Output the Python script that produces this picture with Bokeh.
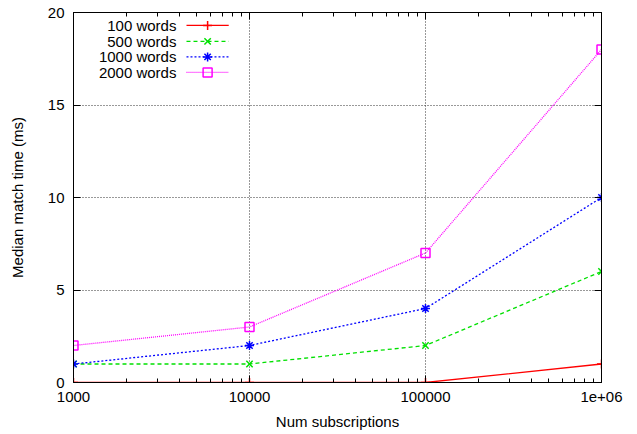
from bokeh.plotting import figure
from bokeh.models import FixedTicker, LogAxis, LinearAxis, Range1d, ColumnDataSource
from bokeh.core.properties import value
from bokeh.embed import file_html
from bokeh.resources import INLINE

subs = [1000, 10000, 100000, 1000000]
w100 = [0, 0, 0, 1]
w500 = [1, 1, 2, 6]
w1000 = [1, 2, 4, 10]
w2000 = [2, 3, 7, 18]
names = ["100 words", "500 words", "1000 words", "2000 words"]
x_tick_labels = ["1000", "10000", "100000", "1e+06"]
y_ticks = [0, 5, 10, 15, 20]

colors = ["#ff0000", "#00e000", "#0000ff", "#ff00ff"]
dashes = ["solid", "4 3", "2 2", "1 1"]
markers = ["cross", "x", "asterisk", "square"]
series = [w100, w500, w1000, w2000]

FONT = "Liberation Sans"
FS = "15px"

p = figure(width=637, height=434, x_axis_type="log",
           x_range=Range1d(1000, 1e6), y_range=Range1d(0, 20),
           output_backend="svg", toolbar_location=None,
           min_border_left=73, min_border_right=36,
           min_border_top=12, min_border_bottom=52)
p.background_fill_color = "white"
p.border_fill_color = "white"
p.outline_line_color = "black"
p.outline_line_width = 1

minor = [m * d for d in (1000, 10000, 100000) for m in range(2, 10)]
xt = FixedTicker(ticks=subs, minor_ticks=minor)
yt = FixedTicker(ticks=y_ticks, minor_ticks=[])

def style_axis(ax, labels=True):
    ax.axis_line_color = "black"
    ax.major_tick_in = 7
    ax.major_tick_out = 0
    ax.minor_tick_in = 4
    ax.minor_tick_out = 0
    ax.major_tick_line_color = "black"
    ax.minor_tick_line_color = "black"
    ax.major_label_text_font = FONT
    ax.major_label_text_font_size = FS
    ax.major_label_text_color = "black"
    ax.axis_label_text_font = FONT
    ax.axis_label_text_font_size = FS
    ax.axis_label_text_font_style = "normal"
    ax.axis_label_text_color = "black"
    if not labels:
        ax.major_label_text_font_size = "1px"
        ax.major_label_text_alpha = 0
        ax.major_label_standoff = 0

xa = p.xaxis[0]
xa.ticker = xt
xa.major_label_overrides = {t: l for t, l in zip(subs, x_tick_labels)}
xa.axis_label = "Num subscriptions"
xa.major_label_standoff = 9
xa.axis_label_standoff = 8
style_axis(xa)

ya = p.yaxis[0]
ya.ticker = yt
ya.axis_label = "Median match time (ms)"
ya.major_label_standoff = 9
ya.axis_label_standoff = 19
style_axis(ya)

top = LogAxis(ticker=xt)
style_axis(top, labels=False)
p.add_layout(top, "above")
right = LinearAxis(ticker=yt)
style_axis(right, labels=False)
p.add_layout(right, "right")

for g in (p.xgrid[0], p.ygrid[0]):
    g.grid_line_color = "#333333"
    g.grid_line_dash = "1 2"
    g.grid_line_width = 1
p.xgrid[0].ticker = xt
p.ygrid[0].ticker = yt

for name, ys, c, d, m in zip(names, series, colors, dashes, markers):
    src = ColumnDataSource(dict(x=subs, y=ys))
    p.line("x", "y", source=src, line_color=c, line_dash=d, line_width=1.3)
    if m == "square":
        p.scatter("x", "y", source=src, marker=m, size=9, line_color=c,
                  fill_color=None, line_width=1.5)
    else:
        p.scatter("x", "y", source=src, marker=m, size=9, line_color=c,
                  line_width=1.5)

# custom gnuplot-style legend (label then sample), placed by frame fractions
def fx(f):
    return 10 ** (3 + 3 * f)

def fy(f):
    return 20 * f

row_fracs = [0.965, 0.922, 0.880, 0.838]
for i, (name, c, d, m) in enumerate(zip(names, colors, dashes, markers)):
    yy = fy(row_fracs[i])
    p.text(x=[fx(0.195)], y=[yy], text=[name], text_align="right",
           text_baseline="middle", text_font=value(FONT),
           text_font_size=FS, text_color="black")
    p.line(x=[fx(0.214), fx(0.294)], y=[yy, yy], line_color=c, line_dash=d,
           line_width=1.3)
    if m == "square":
        p.scatter(x=[fx(0.254)], y=[yy], marker=m, size=9, line_color=c,
                  fill_color=None, line_width=1.5)
    else:
        p.scatter(x=[fx(0.254)], y=[yy], marker=m, size=9, line_color=c,
                  line_width=1.5)

open("out.html", "w").write(file_html(p, INLINE))
